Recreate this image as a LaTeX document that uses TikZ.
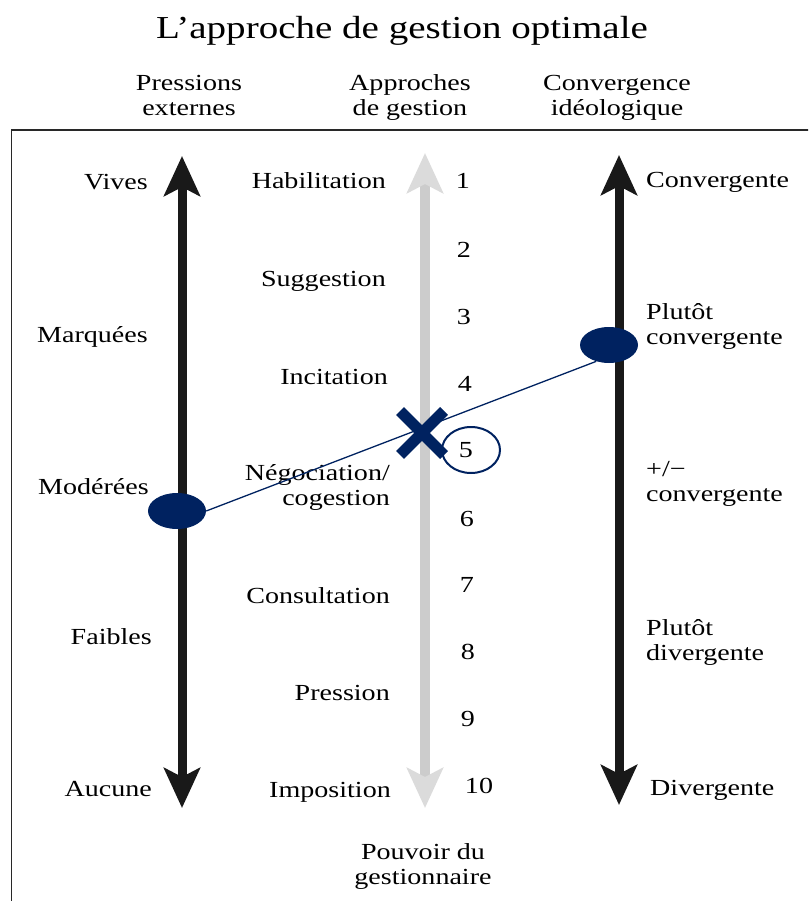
\documentclass[tikz,border=0pt]{standalone}
\usepackage{fontspec}
\setmainfont{Liberation Serif}[FakeStretch=1.22]
\usetikzlibrary{arrows.meta,shapes.geometric,shapes.misc}
\definecolor{navy}{RGB}{0,34,96}
\definecolor{frame}{RGB}{40,40,40}
\begin{document}
\begin{tikzpicture}[x=1pt,y=-1pt,
  lbl/.style={inner sep=0pt,font=\fontsize{23}{25}\selectfont},
  lleft/.style={lbl,anchor=base east},
  lright/.style={lbl,anchor=base west,align=left},
  lnum/.style={lbl,anchor=base},
  head/.style={lbl,anchor=base,align=center},
  darkaxis/.style={line width=9pt,black!90,
    {Stealth[length=40pt,width=36pt,inset=9pt]}-{Stealth[length=40pt,width=36pt,inset=9pt]}},
  lightaxis/.style={line width=10pt,black!20,
    {Stealth[length=40pt,width=36pt,inset=9pt,color=black!14]}-{Stealth[length=40pt,width=36pt,inset=9pt,color=black!14]}},
  dot/.style={ellipse,fill=navy,inner sep=0pt,minimum width=58pt,minimum height=36pt},
  ring/.style={ellipse,draw=navy,line width=2pt,inner sep=0pt,minimum width=58pt,minimum height=46pt},
  mark x/.style={cross out,draw=navy,line width=11pt,inner sep=0pt,minimum size=33pt},
  link/.style={navy,line width=1.3pt}]
\useasboundingbox (0,0) rectangle (808,901);
\clip (0,0) rectangle (808,901);

% title and column headings (two-line nodes sit on the baseline of their last line)
\node[lbl,anchor=base,font=\fontsize{32}{34}\selectfont] (title) at (402,39) {L’approche de gestion optimale};
\node[head] (h1) at (189,116) {Pressions\\externes};
\node[head] (h2) at (410,116) {Approches\\de gestion};
\node[head] (h3) at (617,116) {Convergence\\idéologique};

% frame
\draw[frame,line width=1.8pt] (830,130) -- (11.5,130) -- (11.5,930);

% the three axes
\coordinate (pTop) at (182,156);
\coordinate (pBot) at (182,808);
\coordinate (gTop) at (425,153);
\coordinate (gBot) at (425,808);
\coordinate (cTop) at (619,155);
\coordinate (cBot) at (619,805);
\draw[darkaxis] (pBot) -- (pTop);
\draw[lightaxis] (gBot) -- (gTop);
\draw[darkaxis] (cBot) -- (cTop);

% external pressures
\node[lleft] (vives) at (148,190) {Vives};
\node[lleft] (marq) at (148,342) {Marquées};
\node[lleft] (mod) at (149,494) {Modérées};
\node[lleft] (faib) at (152,644) {Faibles};
\node[lleft] (auc) at (152,796) {Aucune};

% management approaches
\node[lleft] (habil) at (386,189) {Habilitation};
\node[lleft] (sugg) at (386,286) {Suggestion};
\node[lleft] (incit) at (388,384) {Incitation};
\node[lleft,align=right] (nego) at (390,505) {Négociation/\\cogestion};
\node[lleft] (consu) at (390,603) {Consultation};
\node[lleft] (press) at (390,700) {Pression};
\node[lleft] (impo) at (391,797) {Imposition};

% manager's power scale
\node[lnum] (n1) at (463,189) {1};
\node[lnum] (n2) at (464,257) {2};
\node[lnum] (n3) at (464,324) {3};
\node[lnum] (n4) at (465,391) {4};
\node[lnum] (n5) at (466,457) {5};
\node[lnum] (n6) at (467,526) {6};
\node[lnum] (n7) at (467,592) {7};
\node[lnum] (n8) at (468,659) {8};
\node[lnum] (n9) at (468,726) {9};
\node[lnum] (n10) at (479,793) {10};

% ideological convergence
\node[lright] (conv) at (646,188) {Convergente};
\node[lright] (pconv) at (646,344) {Plutôt\\convergente};
\node[lright] (mconv) at (646,501) {+/−\\convergente};
\node[lright] (pdiv) at (646,660) {Plutôt\\divergente};
\node[lright] (div) at (650,795) {Divergente};

% bottom caption
\node[head] (pouv) at (423,884) {Pouvoir du\\gestionnaire};

% positioning on the axes
\node[dot] (L) at (177,511) {};
\node[dot] (R) at (609,345) {};
\draw[link] (L.east) -- (R.232);
\node[mark x] (X) at (422,433) {};
\node[ring] (r5) at (471,450) {};
\end{tikzpicture}
\end{document}
